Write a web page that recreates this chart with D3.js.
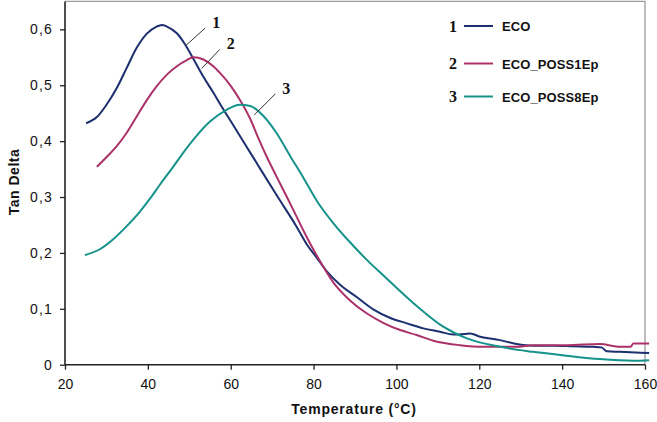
<!DOCTYPE html>
<html><head><meta charset="utf-8">
<script src="https://cdn.jsdelivr.net/npm/d3@7"></script>
<style>body{margin:0;background:#fff}svg{display:block}</style>
</head><body>
<script>
const seriesNames = ["ECO", "ECO_POSS1Ep", "ECO_POSS8Ep"];
const seriesColors = ["#1c2f6f", "#ab3269", "#16928b"];
const xTicks = [20, 40, 60, 80, 100, 120, 140, 160];
const yTicks = [0, 0.1, 0.2, 0.3, 0.4, 0.5, 0.6];

const ecoT = [25.1, 27.7, 30.1, 32.5, 34.9, 37.3, 39.7, 42.1, 43.4, 44.6, 47.0, 49.0, 51.0, 53.4, 55.8, 57.4, 61.0, 65.5, 71.1, 75.9, 78.3, 80.8, 83.2, 86.4, 90.4, 94.4, 98.4, 102.5, 106.5, 110.5, 113.7, 116.5, 117.8, 120.2, 125.0, 129.0, 133.0, 137.9, 142.7, 147.5, 149.5, 150.8, 154.0, 161.0];
const ecoV = [0.432, 0.443, 0.466, 0.495, 0.531, 0.567, 0.592, 0.605, 0.608, 0.605, 0.593, 0.573, 0.547, 0.515, 0.487, 0.467, 0.424, 0.370, 0.303, 0.247, 0.216, 0.191, 0.167, 0.143, 0.121, 0.099, 0.084, 0.074, 0.065, 0.059, 0.054, 0.055, 0.056, 0.050, 0.044, 0.037, 0.034, 0.034, 0.033, 0.032, 0.031, 0.024, 0.023, 0.021];

const p1T = [27.7, 30.1, 32.5, 34.9, 37.3, 39.7, 42.1, 44.6, 47.0, 49.4, 51.0, 53.4, 55.8, 57.4, 60.0, 62.2, 64.7, 66.7, 68.7, 71.1, 73.5, 75.9, 78.3, 80.8, 84.8, 88.8, 92.8, 96.8, 100.9, 104.9, 108.9, 115.3, 121.0, 129.0, 133.0, 141.1, 149.1, 154.0, 156.5, 157.2, 161.0];
const p1V = [0.354, 0.372, 0.391, 0.415, 0.444, 0.473, 0.498, 0.519, 0.534, 0.545, 0.550, 0.546, 0.534, 0.522, 0.499, 0.474, 0.440, 0.405, 0.372, 0.336, 0.301, 0.265, 0.229, 0.195, 0.147, 0.115, 0.092, 0.075, 0.062, 0.053, 0.043, 0.035, 0.032, 0.032, 0.035, 0.035, 0.037, 0.032, 0.032, 0.038, 0.038];

const p8T = [24.8, 28.5, 31.7, 34.9, 38.1, 40.5, 42.9, 46.1, 48.6, 51.8, 55.0, 59.0, 62.2, 64.7, 67.9, 71.1, 74.3, 77.5, 80.8, 84.8, 88.8, 92.8, 96.8, 104.9, 111.3, 117.0, 125.0, 133.0, 141.1, 149.1, 157.2, 161.0];
const p8V = [0.196, 0.207, 0.225, 0.248, 0.274, 0.297, 0.322, 0.354, 0.380, 0.410, 0.435, 0.456, 0.465, 0.463, 0.445, 0.414, 0.374, 0.335, 0.293, 0.253, 0.219, 0.188, 0.160, 0.105, 0.068, 0.047, 0.032, 0.023, 0.016, 0.010, 0.007, 0.008];

const seriesT = [ecoT, p1T, p8T];
const seriesV = [ecoV, p1V, p8V];

const W = 657, H = 422;
const FONT = "Liberation Sans, Arial, sans-serif";
const svg = d3.select("body").append("svg").attr("width", W).attr("height", H);
const x = d3.scaleLinear().domain([20, 160]).range([65, 645]);
const y = d3.scaleLinear().domain([0, 0.65]).range([364.7, 1.4]);
const fmt = d => d === 0 ? "0" : d3.format(".1f")(d).replace(".", ",");

// plot frame (top and right)
svg.append("path").attr("d", `M${x(20)},${y(0.65)}H${x(160)}V${y(0)}`)
  .attr("fill", "none").attr("stroke", "#9a9a9a").attr("stroke-width", 1.3);

const lineGen = d3.line().curve(d3.curveMonotoneX);
seriesT.forEach((ts, i) => {
  const pts = ts.map((t, j) => [x(t), y(seriesV[i][j])]);
  svg.append("path").attr("d", lineGen(pts)).attr("fill", "none")
    .attr("stroke", seriesColors[i]).attr("stroke-width", 2);
});

// axes
const xa = svg.append("g").attr("transform", `translate(0,${y(0)})`)
  .call(d3.axisBottom(x).tickValues(xTicks).tickSize(5).tickPadding(9).tickFormat(d3.format("d")));
const ya = svg.append("g").attr("transform", `translate(${x(20)},0)`)
  .call(d3.axisLeft(y).tickValues(yTicks).tickSize(5).tickPadding(7).tickFormat(fmt));
[xa, ya].forEach(g => {
  g.select(".domain").attr("stroke", "#222").attr("stroke-width", 1.6);
  g.selectAll(".tick line").attr("stroke", "#222").attr("stroke-width", 1.3);
  g.selectAll("text").attr("font-family", FONT).attr("font-size", 14).attr("fill", "#111");
});
ya.selectAll("text").attr("letter-spacing", 1.2);
ya.select(".domain").attr("d", `M-0,${y(0.65)}V${y(0)}`);
xa.select(".domain").attr("d", `M${x(20)},0H${x(160)}`);

// axis titles
svg.append("text").attr("x", 354).attr("y", 414).attr("text-anchor", "middle")
  .attr("font-family", FONT).attr("font-weight", "bold").attr("letter-spacing", 0.8)
  .attr("font-size", 14).attr("fill", "#111").text("Temperature (°C)");
svg.append("text").attr("transform", "translate(19,182) rotate(-90)").attr("text-anchor", "middle")
  .attr("font-family", FONT).attr("font-weight", "bold").attr("letter-spacing", 0.5)
  .attr("font-size", 14).attr("fill", "#111").text("Tan Delta");

// curve annotations (leader lines with numbers)
const annT = [49.0, 53.0, 65.7];
const annV = [0.570, 0.530, 0.447];
const annDx = [20, 18, 21], annDy = [-18, -19, -21];
annT.forEach((t, i) => {
  const px = x(t), py = y(annV[i]);
  svg.append("line").attr("x1", px).attr("y1", py).attr("x2", px + annDx[i]).attr("y2", py + annDy[i])
    .attr("stroke", "#333").attr("stroke-width", 1);
  svg.append("text").attr("x", px + annDx[i] + 11).attr("y", py + annDy[i])
    .attr("text-anchor", "middle").attr("font-family", "Liberation Serif, Times New Roman, serif")
    .attr("font-weight", "bold").attr("font-size", 16).attr("fill", "#111").text(i + 1);
});

// legend
const legY = [26, 63.5, 96.5];
seriesNames.forEach((n, i) => {
  const g = svg.append("g").attr("transform", `translate(0,${legY[i]})`);
  g.append("text").attr("x", 453).attr("y", 5.5).attr("text-anchor", "middle")
    .attr("font-family", "Liberation Serif, Times New Roman, serif").attr("font-weight", "bold")
    .attr("font-size", 16).attr("fill", "#111").text(i + 1);
  g.append("line").attr("x1", 464).attr("x2", 493).attr("y1", 0).attr("y2", 0)
    .attr("stroke", seriesColors[i]).attr("stroke-width", 2);
  g.append("text").attr("x", 502).attr("y", 5)
    .attr("font-family", FONT).attr("font-weight", "bold")
    .attr("font-size", 13).attr("fill", "#111").attr("letter-spacing", 0.1).text(n);
});
</script>
</body></html>
